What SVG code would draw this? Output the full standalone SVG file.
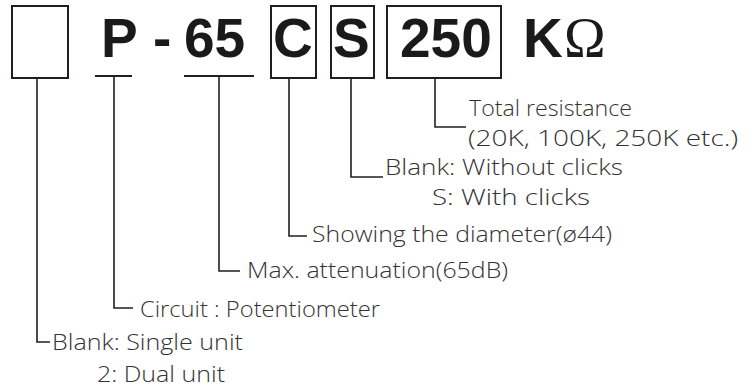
<svg xmlns="http://www.w3.org/2000/svg" width="756" height="390" viewBox="0 0 756 390">
<style>
.box{fill:none;stroke:#231f20;stroke-width:2}
.ln{fill:none;stroke:#231f20;stroke-width:2}
.lnv{fill:none;stroke:#231f20;stroke-width:1.6}
.big{font-family:"Liberation Sans",Arial,sans-serif;font-weight:bold;font-size:55px;fill:#1a1a1a}
.om{font-family:"Liberation Serif","Times New Roman",serif;font-size:56px;fill:#1a1a1a}
.lb{font-family:"Open Sans","Liberation Sans",sans-serif;font-weight:300;font-size:21.5px;fill:#333}
</style>
<rect width="756" height="390" fill="#fff"/>
<g id="code">
<rect class="box" x="12" y="6" width="56" height="72"/>
<text class="big" x="101" y="57">P</text>
<text class="big" x="153" y="57">-</text>
<text class="big" x="184" y="57">65</text>
<rect class="box" x="271" y="6" width="45" height="72"/>
<text class="big" x="273" y="57">C</text>
<rect class="box" x="331" y="6" width="43" height="72"/>
<text class="big" x="333" y="57">S</text>
<rect class="box" x="387" y="6" width="114" height="72"/>
<text class="big" x="400" y="57">250</text>
<text class="big" x="523" y="57">K</text>
<text class="om" x="564" y="57">Ω</text>
<line class="ln" x1="95" y1="76" x2="132" y2="76"/>
<line class="ln" x1="184" y1="76" x2="254" y2="76"/>
</g>
<g id="connectors">
<polyline class="lnv" points="435,78 435,127 466,127"/>
<polyline class="lnv" points="351,78 351,177 383,177"/>
<polyline class="lnv" points="289,78 289,236 307,236"/>
<polyline class="lnv" points="219,76 219,271 240,271"/>
<polyline class="lnv" points="114,76 114,308 133,308"/>
<polyline class="lnv" points="37,78 37,342 50,342"/>
</g>
<g id="label-resistance">
<text class="lb" x="469" y="116" textLength="163" lengthAdjust="spacingAndGlyphs">Total resistance</text>
<text class="lb" x="468" y="146" textLength="270" lengthAdjust="spacingAndGlyphs">(20K, 100K, 250K etc.)</text>
</g>
<g id="label-clicks">
<text class="lb" x="385" y="175" textLength="238" lengthAdjust="spacingAndGlyphs">Blank:  Without clicks</text>
<text class="lb" x="432" y="205" textLength="158" lengthAdjust="spacingAndGlyphs">S:  With clicks</text>
</g>
<g id="label-diameter">
<text class="lb" x="312" y="242" textLength="300" lengthAdjust="spacingAndGlyphs">Showing the diameter(ø44)</text>
</g>
<g id="label-attenuation">
<text class="lb" x="247" y="278" textLength="261" lengthAdjust="spacingAndGlyphs">Max. attenuation(65dB)</text>
</g>
<g id="label-circuit">
<text class="lb" x="140" y="317" textLength="240" lengthAdjust="spacingAndGlyphs">Circuit : Potentiometer</text>
</g>
<g id="label-unit">
<text class="lb" x="52" y="350" textLength="191" lengthAdjust="spacingAndGlyphs">Blank: Single unit</text>
<text class="lb" x="97" y="382" textLength="128" lengthAdjust="spacingAndGlyphs">2: Dual unit</text>
</g>
</svg>
